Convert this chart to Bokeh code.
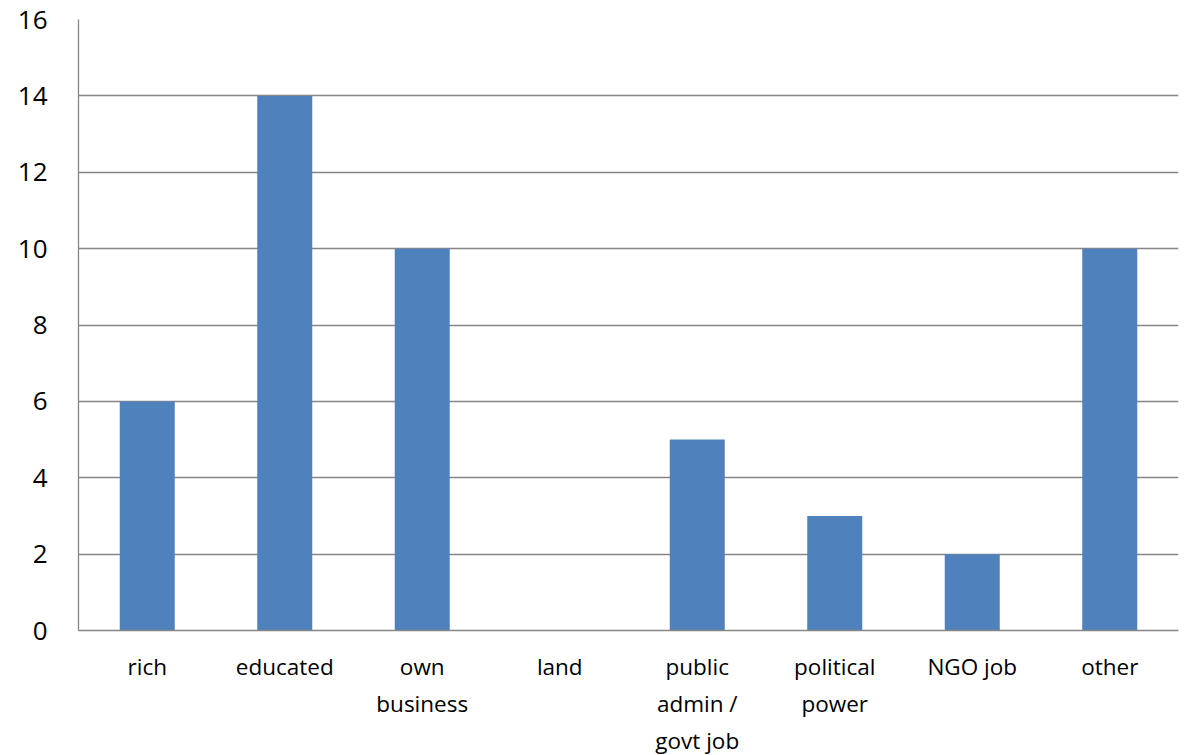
from bokeh.plotting import figure
from bokeh.models import FixedTicker, Range1d
from bokeh.embed import file_html
from bokeh.resources import INLINE

categories = ["rich", "educated", "own\nbusiness", "land", "public\nadmin /\ngovt job",
              "political\npower", "NGO job", "other"]
values = [6, 14, 10, 0, 5, 3, 2, 10]
y_ticks = [0, 2, 4, 6, 8, 10, 12, 14, 16]

p = figure(x_range=categories, y_range=Range1d(0, 16),
           frame_width=1100, frame_height=611,
           output_backend="svg", toolbar_location=None,
           min_border_left=78, min_border_right=9, min_border_top=19, min_border_bottom=10)
p.outline_line_color = None
p.vbar(x=categories, top=values, width=0.4, color="#4F81BD", line_color=None)

p.xgrid.grid_line_color = None
p.ygrid.grid_line_color = "#868686"
p.ygrid.grid_line_width = 1.3
p.yaxis.ticker = FixedTicker(ticks=y_ticks)

for ax in (p.xaxis, p.yaxis):
    ax.axis_line_color = "#868686"
    ax.axis_line_width = 1.3
    ax.major_tick_line_color = None
    ax.minor_tick_line_color = None
    ax.major_label_text_font = "Open Sans"
    ax.major_label_text_color = "black"

p.yaxis.major_label_text_font_size = "26px"
p.yaxis.major_label_standoff = 25
p.xaxis.major_label_text_font_size = "22.5px"
p.xaxis.major_label_standoff = 14

open("out.html", "w").write(file_html(p, INLINE))
